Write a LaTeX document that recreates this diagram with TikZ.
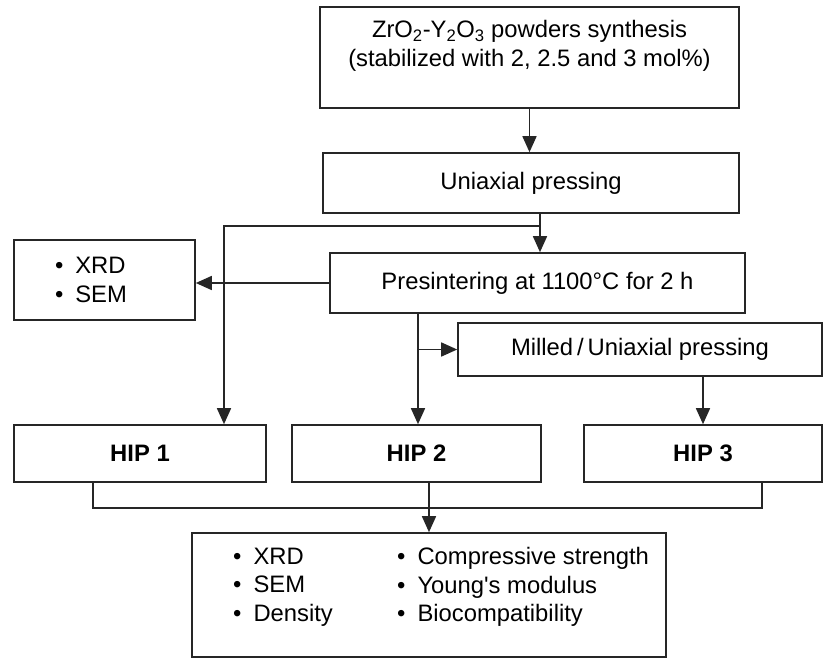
\documentclass[tikz,border=0pt]{standalone}
\usepackage{fontspec}
\setmainfont{Liberation Sans}
\usetikzlibrary{arrows.meta}

\begin{document}
\begin{tikzpicture}[x=1pt,y=-1pt,
	link/.style={draw=black!85, line width=1.6pt},
	arr/.style={link, -{Triangle[length=16pt,width=14pt]}},
	txt/.style={font=\fontsize{23.8}{28.5}\selectfont},
	box/.style={link, fill=white, txt, align=center, inner sep=0pt},
	hip/.style={box, font=\fontsize{23.8}{28.5}\selectfont\bfseries, minimum height=57pt},
	list/.style={txt, align=left, inner sep=0pt}]
	\useasboundingbox (0,0) rectangle (823,659);
	\node[box, minimum width=419pt, minimum height=101pt] (synth) at (529.5,57.5)
		{ZrO\textsubscript{2}-Y\textsubscript{2}O\textsubscript{3} powders synthesis\\(stabilized with 2, 2.5 and 3 mol\%)\\~};
	\node[box, minimum width=416pt, minimum height=60pt] (uni) at (531,183) {Uniaxial pressing};
	\node[box, minimum width=415pt, minimum height=60pt] (pre) at (537.5,283) {Presintering at 1100°C for 2 h};
	\node[box, minimum width=181pt, minimum height=80pt, text width=99pt, align=left, inner xsep=41pt] (xrd) at (104.5,280)
		{\textbullet\hspace{12pt}XRD\\\textbullet\hspace{12pt}SEM};
	\node[box, minimum width=364pt, minimum height=53pt] (mill) at (640,349.5) {Milled\,/\,Uniaxial pressing};
	\node[hip, minimum width=252pt] (hip1) at (140,453.5) {HIP 1};
	\node[hip, minimum width=249pt] (hip2) at (416.5,453.5) {HIP 2};
	\node[hip, minimum width=238pt] (hip3) at (703,453.5) {HIP 3};
	\node[box, minimum width=474pt, minimum height=124pt] (res) at (429,595) {};
	\node[list, anchor=west] (resa) at (233,587)
		{\textbullet\hspace{12pt}XRD\\\textbullet\hspace{12pt}SEM\\\textbullet\hspace{12pt}Density};
	\node[list, anchor=west] (resb) at (397,587)
		{\textbullet\hspace{12pt}Compressive strength\\\textbullet\hspace{12pt}Young\textquotesingle s modulus\\\textbullet\hspace{12pt}Biocompatibility};
	\coordinate (split) at (540,226);
	\coordinate (tap) at (224,226);
	\coordinate (fork) at (418,349.5);
	\coordinate (lleg) at (93,508);
	\coordinate (rleg) at (762,508);
	\draw[arr] (synth.south) -- (synth.south |- uni.north);
	\draw[arr] (uni.south -| split) -- (pre.north -| split);
	\draw[arr] (split) -- (tap) -- (hip1.north -| tap);
	\draw[arr] (pre.west) -- (pre.west -| xrd.east);
	\draw[arr] (pre.south -| fork) -- (hip2.north -| fork);
	\draw[arr] (fork) -- (mill.west |- fork);
	\draw[arr] (mill.south -| hip3.north) -- (hip3.north);
	\draw[link] (hip1.south -| lleg) -- (lleg) -- (rleg) -- (hip3.south -| rleg);
	\draw[arr] (hip2.south -| res.north) -- (res.north);
\end{tikzpicture}
\end{document}
